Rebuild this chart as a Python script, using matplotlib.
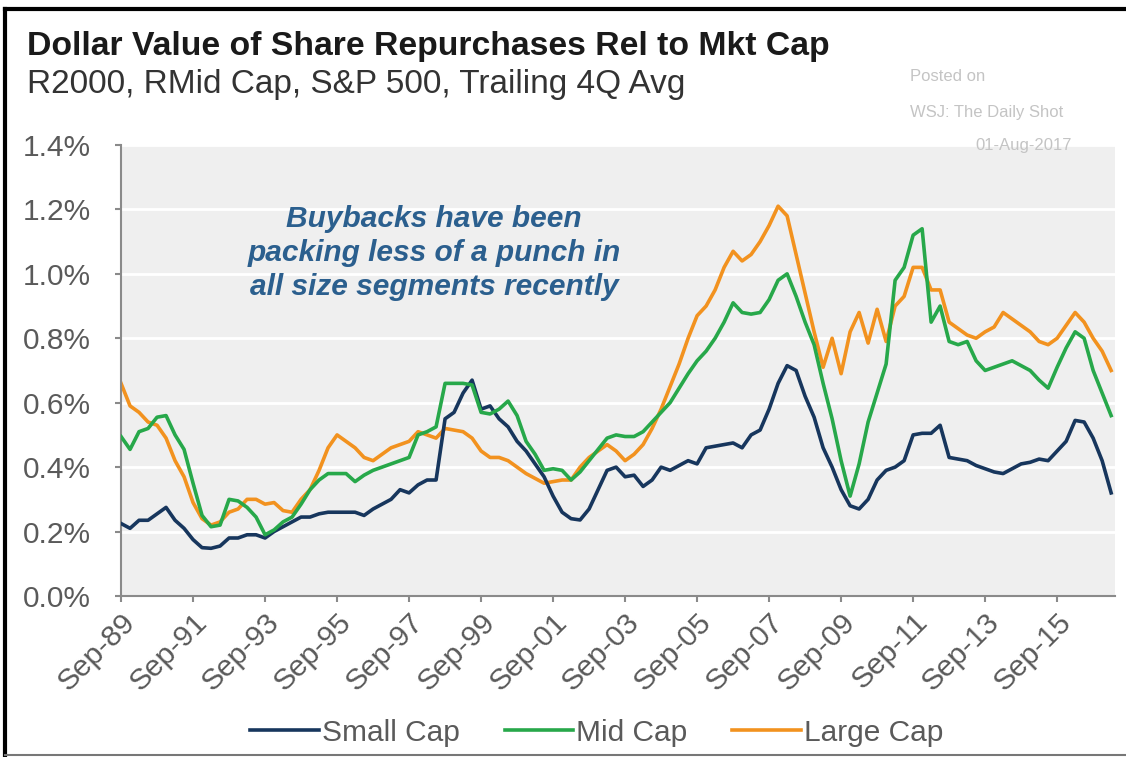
"""Dollar value of share repurchases relative to market cap, by size segment."""

import matplotlib

matplotlib.use("Agg")
import matplotlib.pyplot as plt
from matplotlib.lines import Line2D

# quarterly, Sep-89 .. Mar-17, trailing 4Q avg (%)
small_cap = [
    0.225, 0.21, 0.235, 0.235, 0.255, 0.275, 0.235, 0.21, 0.175, 0.15,
    0.148, 0.155, 0.18, 0.18, 0.19, 0.19, 0.18, 0.20, 0.215, 0.23,
    0.245, 0.245, 0.255, 0.26, 0.26, 0.26, 0.26, 0.25, 0.27, 0.285,
    0.30, 0.33, 0.32, 0.345, 0.36, 0.36, 0.55, 0.57, 0.63, 0.67,
    0.58, 0.59, 0.55, 0.525, 0.48, 0.45, 0.41, 0.37, 0.31, 0.26,
    0.24, 0.236, 0.27, 0.33, 0.39, 0.40, 0.37, 0.375, 0.34, 0.36,
    0.40, 0.39, 0.405, 0.42, 0.41, 0.46, 0.465, 0.47, 0.475, 0.46,
    0.50, 0.515, 0.58, 0.66, 0.715, 0.70, 0.62, 0.555, 0.46, 0.40,
    0.33, 0.28, 0.27, 0.30, 0.36, 0.39, 0.40, 0.42, 0.50, 0.505,
    0.505, 0.53, 0.43, 0.425, 0.42, 0.405, 0.395, 0.385, 0.38, 0.395,
    0.41, 0.415, 0.425, 0.42, 0.45, 0.48, 0.545, 0.54, 0.49, 0.42,
    0.32,
]
mid_cap = [
    0.495, 0.455, 0.51, 0.52, 0.555, 0.56, 0.50, 0.455, 0.35, 0.25,
    0.215, 0.22, 0.30, 0.295, 0.275, 0.245, 0.19, 0.205, 0.23, 0.245,
    0.285, 0.33, 0.36, 0.38, 0.38, 0.38, 0.355, 0.375, 0.39, 0.40,
    0.41, 0.42, 0.43, 0.50, 0.51, 0.525, 0.66, 0.66, 0.66, 0.655,
    0.57, 0.565, 0.58, 0.605, 0.56, 0.48, 0.44, 0.39, 0.395, 0.39,
    0.36, 0.385, 0.42, 0.455, 0.49, 0.50, 0.495, 0.495, 0.51, 0.54,
    0.57, 0.60, 0.645, 0.69, 0.73, 0.76, 0.80, 0.85, 0.91, 0.88,
    0.875, 0.88, 0.92, 0.98, 1.00, 0.93, 0.85, 0.78, 0.66, 0.55,
    0.42, 0.31, 0.41, 0.54, 0.63, 0.72, 0.98, 1.02, 1.12, 1.14,
    0.85, 0.90, 0.79, 0.78, 0.79, 0.73, 0.70, 0.71, 0.72, 0.73,
    0.715, 0.70, 0.67, 0.645, 0.71, 0.77, 0.82, 0.80, 0.70, 0.63,
    0.56,
]
large_cap = [
    0.66, 0.59, 0.57, 0.54, 0.53, 0.49, 0.42, 0.37, 0.29, 0.24,
    0.22, 0.23, 0.26, 0.27, 0.30, 0.30, 0.285, 0.29, 0.265, 0.26,
    0.30, 0.33, 0.39, 0.46, 0.50, 0.48, 0.46, 0.43, 0.42, 0.44,
    0.46, 0.47, 0.48, 0.51, 0.50, 0.49, 0.52, 0.515, 0.51, 0.49,
    0.45, 0.43, 0.43, 0.42, 0.40, 0.38, 0.365, 0.35, 0.355, 0.36,
    0.36, 0.40, 0.43, 0.45, 0.47, 0.45, 0.42, 0.44, 0.47, 0.52,
    0.58, 0.65, 0.72, 0.80, 0.87, 0.90, 0.95, 1.02, 1.07, 1.04,
    1.06, 1.10, 1.15, 1.21, 1.18, 1.06, 0.94, 0.82, 0.71, 0.80,
    0.69, 0.82, 0.88, 0.785, 0.89, 0.79, 0.90, 0.93, 1.02, 1.02,
    0.95, 0.95, 0.85, 0.83, 0.81, 0.80, 0.82, 0.835, 0.88, 0.86,
    0.84, 0.82, 0.79, 0.78, 0.80, 0.84, 0.88, 0.85, 0.80, 0.76,
    0.70,
]
tick_labels = ["Sep-89", "Sep-91", "Sep-93", "Sep-95", "Sep-97", "Sep-99", "Sep-01",
               "Sep-03", "Sep-05", "Sep-07", "Sep-09", "Sep-11", "Sep-13", "Sep-15"]
y_ticks = [0.0, 0.2, 0.4, 0.6, 0.8, 1.0, 1.2, 1.4]

NAVY = "#17365d"
GREEN = "#27a84a"
ORANGE = "#f2921f"
GREY = "#5a5a5a"

plt.rcParams["font.family"] = ["Liberation Sans", "DejaVu Sans"]

fig = plt.figure(figsize=(11.26, 7.57), dpi=100)
ax = fig.add_axes([0.1075, 0.2127, 0.8825, 0.5958])
ax.set_facecolor("#efefef")

x = list(range(len(small_cap)))
ax.plot(x, small_cap, color=NAVY, lw=2.6, label="Small Cap", zorder=3)
ax.plot(x, mid_cap, color=GREEN, lw=2.6, label="Mid Cap", zorder=4)
ax.plot(x, large_cap, color=ORANGE, lw=2.6, label="Large Cap", zorder=2)

ax.set_xlim(0.2, 110.4)
ax.set_ylim(0, 1.4)
ax.set_yticks(y_ticks)
ax.set_yticklabels([f"{v:.1f}%" for v in y_ticks])
ax.set_xticks(range(0, 8 * len(tick_labels), 8))
ax.set_xticklabels(tick_labels, rotation=45, ha="right", rotation_mode="anchor")
ax.grid(axis="y", color="white", lw=2)
ax.set_axisbelow(True)

for side in ("top", "right"):
    ax.spines[side].set_visible(False)
for side in ("left", "bottom"):
    ax.spines[side].set_color("#8a8a8a")
    ax.spines[side].set_linewidth(1.5)
ax.tick_params(axis="both", colors="#8a8a8a", width=1.5, length=4.5,
               labelcolor=GREY, labelsize=21.5)
ax.tick_params(axis="y", pad=17)
ax.tick_params(axis="x", pad=4)

ax.text(34.8, 1.065, "Buybacks have been\npacking less of a punch in\nall size segments recently",
        ha="center", va="center", fontsize=21.5, fontweight="bold", fontstyle="italic",
        color="#2b5f8e", linespacing=1.28)

fig.text(0.024, 0.927, "Dollar Value of Share Repurchases Rel to Mkt Cap",
         fontsize=24.3, fontweight="bold", color="#1a1a1a")
fig.text(0.024, 0.877, "R2000, RMid Cap, S&P 500, Trailing 4Q Avg",
         fontsize=24, color="#333333")

fig.text(0.808, 0.893, "Posted on", fontsize=12, color="#c4c4c4")
fig.text(0.808, 0.846, "WSJ: The Daily Shot", fontsize=12, color="#c4c4c4")
fig.text(0.952, 0.802, "01-Aug-2017", fontsize=12, color="#c4c4c4", ha="right")

fig.legend(loc="center", bbox_to_anchor=(0.53, 0.032), ncol=3, frameon=False,
           fontsize=21.5, handlelength=2.3, handletextpad=0.1, columnspacing=1.5,
           labelcolor=GREY)

# black frame around the screenshot
frame = dict(color="black", lw=3, transform=fig.transFigure, figure=fig)
fig.lines.extend([
    Line2D([0.004, 0.004], [0.0, 0.988], **frame),
    Line2D([0.004, 1.0], [0.988, 0.988], **frame),
    Line2D([0.004, 1.0], [0.002, 0.002], color="#777777", lw=1.5,
           transform=fig.transFigure, figure=fig),
])

fig.savefig("out.png", dpi=100)
